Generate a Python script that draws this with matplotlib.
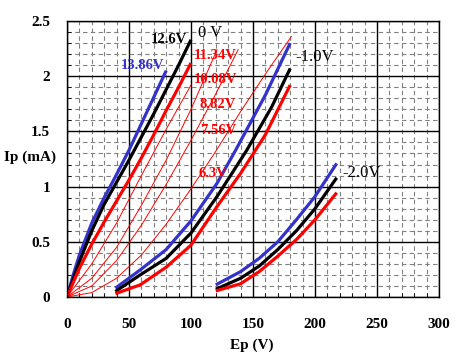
import matplotlib
matplotlib.use("Agg")
import matplotlib.pyplot as plt
from matplotlib.ticker import MultipleLocator

# ---- data (Ep in V, Ip in mA) ----
# Grid 0 V, heater voltages
g0_blue_ep = [0, 5, 10, 20, 30, 40, 50, 60, 70, 80]
g0_blue_ip = [0, 0.20, 0.38, 0.67, 0.90, 1.11, 1.33, 1.57, 1.81, 2.05]
g0_black_ep = [0, 10, 20, 30, 40, 50, 60, 70, 80, 90, 100]
g0_black_ip = [0, 0.32, 0.60, 0.84, 1.04, 1.24, 1.45, 1.66, 1.88, 2.10, 2.33]
g0_red_ep = [0, 10, 20, 30, 40, 50, 60, 70, 80, 90, 100]
g0_red_ip = [0, 0.26, 0.48, 0.68, 0.87, 1.06, 1.26, 1.47, 1.69, 1.90, 2.12]

# Grid 0 V, reduced heater voltages (thin lines)
h1008_ep = [0, 20, 40, 60, 80, 100]
h1008_ip = [0, 0.30, 0.67, 1.10, 1.52, 1.92]
h882_ep = [0, 20, 40, 60, 80, 100, 121]
h882_ip = [0, 0.17, 0.45, 0.83, 1.24, 1.70, 2.24]
h756_ep = [0, 20, 40, 60, 80, 100, 120, 138]
h756_ip = [0, 0.10, 0.33, 0.65, 1.02, 1.42, 1.84, 2.24]
h63_ep = [0, 20, 40, 60, 80, 100, 120, 140, 160, 181]
h63_ip = [0, 0.04, 0.17, 0.38, 0.66, 0.98, 1.32, 1.68, 2.02, 2.36]

# Grid -1.0 V
g1_blue_ep = [39, 59, 80, 100, 121, 136, 160, 180]
g1_blue_ip = [0.08, 0.245, 0.43, 0.69, 1.03, 1.33, 1.83, 2.30]
g1_black_ep = [39, 59, 80, 100, 121, 145, 165, 180]
g1_black_ip = [0.05, 0.20, 0.35, 0.58, 0.91, 1.33, 1.72, 2.07]
g1_red_ep = [39, 59, 80, 100, 121, 140, 160, 180]
g1_red_ip = [0.03, 0.11, 0.27, 0.47, 0.82, 1.12, 1.47, 1.92]

# Grid -2.0 V
g2_blue_ep = [120, 140, 155, 170, 185, 200, 217.5]
g2_blue_ip = [0.11, 0.23, 0.35, 0.50, 0.70, 0.91, 1.21]
g2_black_ep = [120, 140, 155, 170, 185, 200, 217.5]
g2_black_ip = [0.07, 0.17, 0.28, 0.43, 0.60, 0.80, 1.08]
g2_red_ep = [120, 140, 155, 170, 185, 200, 217.5]
g2_red_ip = [0.055, 0.12, 0.23, 0.37, 0.52, 0.70, 0.945]

x_ticks = [0, 50, 100, 150, 200, 250, 300]
y_ticks = [0, 0.5, 1, 1.5, 2, 2.5]
y_tick_labels = ["0", "0.5", "1", "1.5", "2", "2.5"]

BLUE = "#3333cc"
RED = "#ff0000"
BLACK = "#000000"
FONT = "Liberation Serif"

fig = plt.figure(figsize=(4.6, 3.6), dpi=100)
ax = fig.add_axes([67 / 460, 1 - 297 / 360, 372 / 460, 276 / 360])

ax.set_xlim(0, 300)
ax.set_ylim(0, 2.5)

# grids
ax.xaxis.set_major_locator(MultipleLocator(50))
ax.yaxis.set_major_locator(MultipleLocator(0.5))
ax.xaxis.set_minor_locator(MultipleLocator(10))
ax.yaxis.set_minor_locator(MultipleLocator(0.1))
ax.grid(which="minor", color="#808080", linestyle=(0, (4, 3)), linewidth=0.8)
ax.grid(which="major", color="black", linestyle="-", linewidth=1.0)
ax.set_axisbelow(True)

ax.set_xticks(x_ticks)
ax.set_yticks(y_ticks)
ax.set_yticklabels(y_tick_labels)
ax.tick_params(which="both", direction="in", length=0)
ax.tick_params(axis="y", which="minor", left=True, length=3, direction="in")
ax.tick_params(axis="x", which="minor", bottom=True, length=3, direction="in")
ax.tick_params(axis="x", pad=15)
ax.tick_params(axis="y", pad=12)
for lab in ax.get_xticklabels() + ax.get_yticklabels():
    lab.set_fontfamily(FONT)
    lab.set_fontweight("bold")
    lab.set_fontsize(11)
for s in ax.spines.values():
    s.set_linewidth(1.0)
    s.set_color("black")

thick = 2.3
thin = 0.7
ax.plot(h1008_ep, h1008_ip, color=RED, lw=thin)
ax.plot(h882_ep, h882_ip, color=RED, lw=thin)
ax.plot(h756_ep, h756_ip, color=RED, lw=thin)
ax.plot(h63_ep, h63_ip, color=RED, lw=thin)

for ep, ip, c in [
    (g0_blue_ep, g0_blue_ip, BLUE), (g0_black_ep, g0_black_ip, BLACK), (g0_red_ep, g0_red_ip, RED),
    (g1_blue_ep, g1_blue_ip, BLUE), (g1_black_ep, g1_black_ip, BLACK), (g1_red_ep, g1_red_ip, RED),
    (g2_blue_ep, g2_blue_ip, BLUE), (g2_black_ep, g2_black_ip, BLACK), (g2_red_ep, g2_red_ip, RED),
]:
    ax.plot(ep, ip, color=c, lw=thick, solid_capstyle="butt")

# labels
bold = dict(fontfamily=FONT, fontweight="bold", fontsize=10.5)
ax.text(97, 2.33, "12.6V", color=BLACK, ha="right", va="center", **bold)
ax.text(43, 2.10, "13.86V", color=BLUE, ha="left", va="center", **bold)
ax.text(102, 2.19, "11.34V", color=RED, ha="left", va="center", **bold)
ax.text(102, 1.97, "10.08V", color=RED, ha="left", va="center", **bold)
ax.text(107, 1.74, "8.82V", color=RED, ha="left", va="center", **bold)
ax.text(107, 1.51, "7.56V", color=RED, ha="left", va="center", **bold)
ax.text(106, 1.12, "6.3V", color=RED, ha="left", va="center", **bold)
norm = dict(fontfamily=FONT, fontsize=12)
ax.text(106, 2.39, "0 V", color=BLACK, ha="left", va="center", **norm)
ax.text(184, 2.17, "-1.0V", color=BLACK, ha="left", va="center", **norm)
ax.text(222, 1.12, "-2.0V", color=BLACK, ha="left", va="center", **norm)

ax.set_xlabel("Ep (V)", fontfamily=FONT, fontweight="bold", fontsize=11)
ax.xaxis.set_label_coords(0.497, -0.149)
ax.set_ylabel("Ip (mA)", fontfamily=FONT, fontweight="bold", fontsize=11,
              rotation=0, ha="center", va="center")
ax.yaxis.set_label_coords(-0.0995, 0.507)

fig.savefig("out.png", dpi=100, facecolor="white")
